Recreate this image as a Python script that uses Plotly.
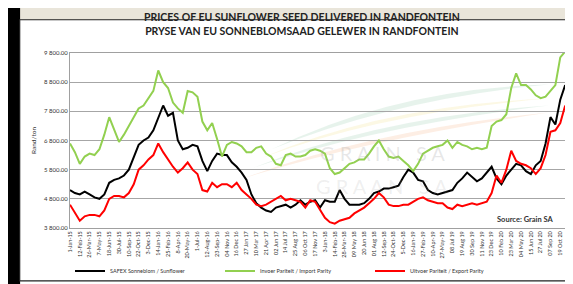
import numpy as np
import plotly.graph_objects as go

tick_labels = [
    "1-Jan-15", "12-Feb-15", "26-Mar-15", "7-May-15", "18-Jun-15", "30-Jul-15",
    "10-Sep-15", "22-Oct-15", "3-Dec-15", "14-Jan-16", "25-Feb-16", "8-Apr-16",
    "20-May-16", "1-Jul-16", "12-Aug-16", "23-Sep-16", "04 Nov 16", "16 Dec 16",
    "27 Jan 17", "10 Mar 17", "21 Apr 17", "02 Jun 17", "14 Jul 17", "25 Aug 17",
    "06 Oct 17", "17 Nov 17", "3-Jan-18", "14-Feb-18", "28-Mar-18", "09 May 18",
    "20 Jun 18", "01 Aug 18", "12-Sep-18", "24-Oct-18", "5-Dec-18", "16-Jan-19",
    "27-Feb-19", "10-Apr-19", "27-May-19", "08 Jul 19", "19 Aug 19", "30 Sep 19",
    "11 Nov 19", "23 Dec 19", "10 Feb 20", "23 Mar 20", "04 May 20", "15 Jun 20",
    "27 Jul 20", "07 Sep 20", "19 Oct 20", "30 Nov 20",
]

# sampled twice per label interval (Rand/ton)
safex = [
    5100, 5000, 4950, 5050, 4950, 4850, 4800, 4950, 5350, 5450,
    5500, 5600, 5800, 6250, 6650, 6800, 6900, 7150, 7600, 8000,
    7650, 7750, 6800, 6500, 6550, 6650, 6600, 6100, 5750, 6100,
    6350, 6300, 6300, 6050, 5900, 5700, 5450, 4950, 4650, 4500,
    4400, 4350, 4500, 4550, 4600, 4500, 4600, 4750, 4600, 4700,
    4750, 4500, 4750, 4700, 4700, 5100, 4800, 4600, 4600, 4600,
    4650, 4800, 5000, 5050, 5150, 5150, 5200, 5250, 5550, 5800,
    5700, 5450, 5400, 5100, 5000, 4950, 5000, 5050, 5100, 5350,
    5500, 5700, 5550, 5400, 5500, 5700, 5900, 5500, 5300, 5600,
    5800, 6000, 5950, 5750, 5650, 5950, 6100, 6700, 7600, 7350,
    8200, 8700,
]
import_parity = [
    6700, 6400, 6000, 6250, 6350, 6300, 6500, 7000, 7600, 7200,
    6750, 7000, 7300, 7600, 7900, 8000, 8250, 8500, 9200, 8800,
    8600, 8100, 7900, 7750, 8500, 8450, 8300, 7450, 7150, 7400,
    6850, 6250, 6650, 6750, 6700, 6600, 6400, 6400, 6550, 6600,
    6350, 6250, 6000, 5950, 6300, 6350, 6250, 6250, 6300, 6450,
    6500, 6450, 6350, 5850, 5650, 5700, 5850, 6000, 6050, 6150,
    6150, 6350, 6600, 6800, 6500, 6250, 6200, 6250, 6100, 5950,
    5750, 6000, 6350, 6450, 6550, 6600, 6650, 6800, 6550, 6750,
    6650, 6600, 6500, 6550, 6500, 6550, 7300, 7450, 7500, 7700,
    8600, 9100, 8700, 8700, 8550, 8350, 8250, 8300, 8500, 8700,
    9650, 9850,
]
export_parity = [
    4600, 4300, 4050, 4200, 4250, 4250, 4200, 4400, 4800, 4900,
    4900, 4850, 5000, 5300, 5800, 5950, 6150, 6300, 6700, 6400,
    6150, 5900, 5700, 5850, 6050, 5800, 5650, 5100, 5050, 5350,
    5200, 5300, 5300, 5200, 5350, 5100, 4950, 4800, 4600, 4550,
    4600, 4700, 4800, 4900, 4750, 4800, 4750, 4700, 4500, 4750,
    4700, 4400, 4150, 4000, 3950, 4050, 4100, 4150, 4300, 4400,
    4500, 4650, 4800, 5000, 4850, 4600, 4550, 4550, 4600, 4600,
    4700, 4800, 4850, 4750, 4700, 4650, 4650, 4500, 4450, 4600,
    4550, 4600, 4650, 4600, 4650, 4700, 5000, 5600, 5350, 5800,
    6450, 6100, 6000, 5950, 5850, 5650, 5850, 6300, 7100, 7150,
    7400, 8000,
]

series_names = [
    "SAFEX Sonneblom / Sunflower",
    "Invoer Pariteit / Import Parity",
    "Uitvoer Pariteit / Export Parity",
]
series_colors = ["#000000", "#92D050", "#FF0000"]

x = np.arange(len(safex)) * 0.5

fig = go.Figure()
for name, vals, col in zip(series_names, [safex, import_parity, export_parity], series_colors):
    fig.add_trace(go.Scatter(x=x, y=vals, mode="lines", name=name,
                             line=dict(color=col, width=2)))

FONT = "Lato"

fig.update_layout(
    width=573, height=284,
    margin=dict(l=62, r=7, t=45, b=57),
    paper_bgcolor="white", plot_bgcolor="white",
    separators=". ",
    font=dict(family=FONT, color="#333333"),
    showlegend=True,
    legend=dict(orientation="h", x=0.0, y=-0.245, xanchor="left", yanchor="middle",
                font=dict(size=5.5, color="#333333"), entrywidth=105, entrywidthmode="pixels",
                bgcolor="rgba(0,0,0,0)", itemwidth=30, tracegroupgap=0),
    xaxis=dict(range=[0, 51.4], tickmode="array", tickvals=list(range(len(tick_labels))),
               ticktext=tick_labels, tickangle=-90, tickfont=dict(size=5.5, color="#333333"),
               showgrid=False, zeroline=False, showline=True, linecolor="#a0a0a0",
               linewidth=1, mirror=True, ticks=""),
    yaxis=dict(range=[3800, 9800], dtick=1000, tick0=3800, tickformat=",.2f",
               tickfont=dict(size=6, color="#333333"), showgrid=True, gridcolor="#a6a6a6",
               gridwidth=1, zeroline=False, showline=True, linecolor="#a0a0a0",
               linewidth=1, mirror=True, ticks="",
               title=dict(text="Rand/ton", font=dict(size=6.5, color="#333333"), standoff=6)),
)

# title
fig.add_annotation(xref="paper", yref="paper", x=0.46, y=1.0, yshift=29, showarrow=False,
                   text="<b>PRICES OF EU SUNFLOWER SEED DELIVERED IN RANDFONTEIN<br>"
                        "PRYSE VAN EU SONNEBLOMSAAD GELEWER IN RANDFONTEIN</b>",
                   font=dict(family=FONT, size=10.5, color="#222222"), align="center",
                   xanchor="center", yanchor="middle")

# source
fig.add_annotation(xref="paper", yref="paper", x=0.965, y=0.05, showarrow=False,
                   text="<b>Source: Grain SA</b>", font=dict(family=FONT, size=7.5, color="#333333"),
                   xanchor="right", yanchor="middle")

# faint watermark
fig.add_annotation(xref="paper", yref="paper", x=0.62, y=0.43, showarrow=False,
                   text="G R A I N   S A", font=dict(family=FONT, size=20, color="rgba(160,160,160,0.25)"),
                   xanchor="center", yanchor="middle")
fig.add_annotation(xref="paper", yref="paper", x=0.62, y=0.24, showarrow=False,
                   text="G R A A N   S A", font=dict(family=FONT, size=20, color="rgba(160,160,160,0.18)"),
                   xanchor="center", yanchor="middle")
swooshes = [
    ("rgba(120,190,150,0.18)", "M 0.40 0.45 Q 0.65 0.80 0.95 0.82 Q 0.65 0.74 0.40 0.45 Z"),
    ("rgba(240,220,120,0.20)", "M 0.38 0.40 Q 0.62 0.70 0.95 0.74 Q 0.62 0.66 0.38 0.40 Z"),
    ("rgba(120,190,150,0.18)", "M 0.36 0.34 Q 0.62 0.64 0.95 0.70 Q 0.60 0.58 0.36 0.34 Z"),
    ("rgba(245,170,120,0.20)", "M 0.34 0.28 Q 0.60 0.56 0.95 0.66 Q 0.58 0.50 0.34 0.28 Z"),
]
for col, p in swooshes:
    fig.add_shape(type="path", xref="paper", yref="paper", path=p, fillcolor=col,
                  line=dict(width=0), layer="below")

# frame: beige top strip, black left bar, panel border
fig.add_shape(type="rect", xref="paper", yref="paper", x0=-0.2, x1=1.1, y0=1.19, y1=1.3,
              fillcolor="#e9e5da", line=dict(width=0), layer="below")
fig.add_shape(type="rect", xref="paper", yref="paper", x0=-0.2, x1=-0.099, y0=-0.5, y1=1.3,
              fillcolor="#000000", line=dict(width=0))
fig.add_shape(type="rect", xref="paper", yref="paper", x0=-0.1, x1=1.008, y0=-0.302, y1=1.19,
              fillcolor="rgba(0,0,0,0)", line=dict(color="#222222", width=1.2))

fig.write_html("out.html")
